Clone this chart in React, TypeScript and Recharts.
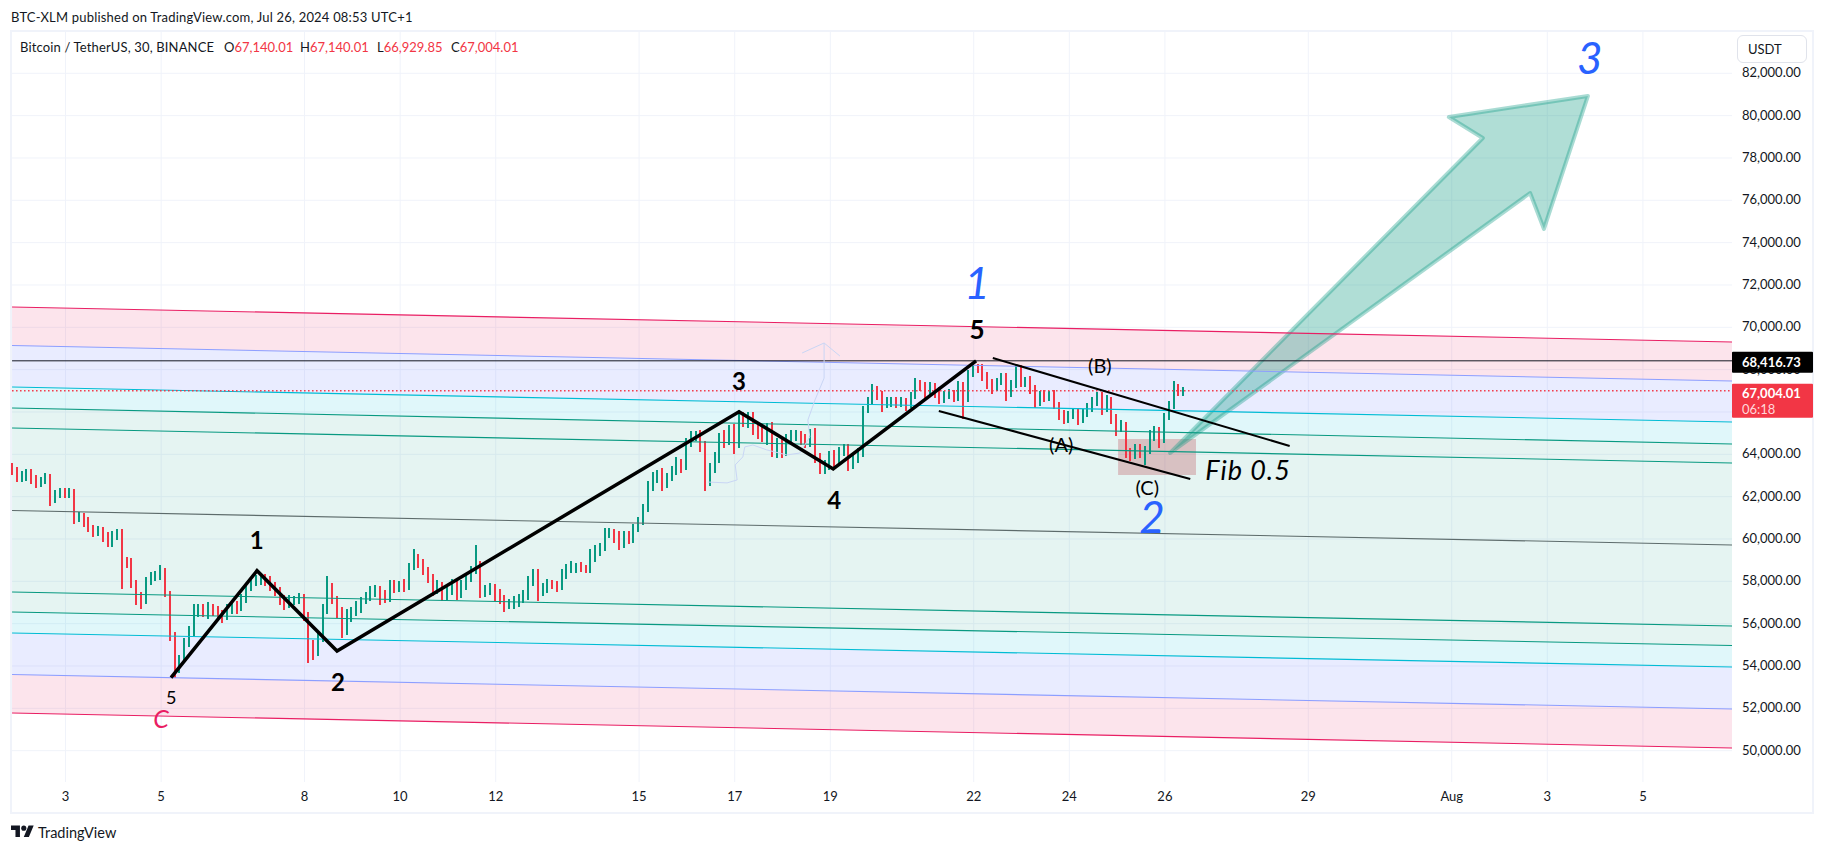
import {
  Area,
  Bar,
  CartesianGrid,
  ComposedChart,
  Line,
  ReferenceArea,
  ReferenceDot,
  XAxis,
  YAxis,
} from "recharts";

const FONT = "Lato, 'Open Sans', sans-serif";
const TEXT = "#131722";
const UP = "#089981";
const DOWN = "#f23645";
const BLUE = "#2962ff";

// x axis is in days counted from Jul 1, so Aug 1 is day 32
const DAY_MIN = 1.881;
const DAY_MAX = 37.864;
const PRICE_MIN = 48520;
const PRICE_MAX = 83951;

const dayTicks = [3, 5, 8, 10, 12, 15, 17, 19, 22, 24, 26, 29, 32, 34, 36];
const priceTicks = [
  50000, 52000, 54000, 56000, 58000, 60000, 62000, 64000, 66000, 68000, 70000,
  72000, 74000, 76000, 78000, 80000, 82000,
];
const HIGH_MARK = 68416.73;
const LAST_PRICE = 67004.01;

// candle closes, one every 0.1 day starting at firstCandleDay
const firstCandleDay = 1.88;
const candleStep = 0.1;
const firstOpen = 63400;
// every bar here stands for a few of the 30 min candles, so the wicks get some extra reach
const wickReach = 90;
const candleCloses = [
  63240, 62870, 63000, 63150, 62800, 62630, 62750, 62920, 61860, 62100,
  62240, 62150, 62190, 61000, 61060, 60800, 60500, 60300, 60430, 60100,
  59810, 60100, 60300, 59020, 58900, 57900, 57250, 57150, 58000, 58200,
  58300, 58460, 57400, 55420, 53900, 54300, 55100, 55700, 56600, 56650,
  56550, 56700, 56600, 56450, 56370, 56700, 56800, 56750, 57200, 57700,
  57950, 58050, 58150, 58000, 57800, 57500, 57200, 56900, 57100, 57150,
  57240, 56400, 55000, 54700, 55300, 56600, 57700, 57140, 56530, 55700,
  56400, 56600, 56800, 57100, 57300, 57450, 57600, 57250, 57200, 57800,
  57700, 57800, 57750, 58700, 59100, 58850, 58500, 58100, 57650, 57760,
  57350, 57550, 57850, 57450, 57800, 58150, 58500, 58800, 57500, 57600,
  57700, 57400, 57150, 56900, 56950, 57100, 57150, 57300, 58000, 58300,
  57500, 57700, 57850, 57800, 57760, 58300, 58600, 58650, 58700, 58620,
  58600, 59300, 59450, 59580, 60250, 60300, 60100, 59800, 60150, 60000,
  60500, 60850, 61450, 62500, 62900, 63050, 62600, 62900, 63250, 63600,
  63400, 64500, 64800, 64900, 64350, 62800, 63400, 63800, 64800, 64650,
  65150, 64500, 65800, 65500, 65750, 65250, 65000, 64800, 65250, 64100,
  64550, 64150, 64750, 64850, 64900, 64700, 64550, 65000, 63900, 63450,
  63500, 63950, 63700, 64100, 64280, 63550, 63800, 64050, 66100, 66500,
  67050, 66800, 66370, 66500, 66520, 66420, 66500, 66370, 66750, 67350,
  67200, 66900, 67200, 66950, 66660, 66800, 66850, 66700, 67200, 66600,
  67800, 68080, 68050, 67700, 67350, 67150, 67450, 67600, 66900, 67300,
  68050, 67400, 67450, 67100, 66500, 66800, 66700, 66800, 66300, 65900,
  65700, 65850, 65950, 65700, 65950, 66200, 66450, 66750, 66200, 66550,
  65700, 65250, 65380, 64100, 64000, 64280, 64100, 64200, 64900, 65050,
  64700, 65750, 66300, 67100, 66950, 67004,
];
const candleUpperWicks = [
  100, 80, 120, 90, 60, 150, 70, 110, 60, 140,
  100, 60, 130, 80, 120, 70, 160, 90, 110, 60,
  130, 180, 90, 70, 60, 120, 80, 140, 100, 160,
  110, 230, 60, 40, 100, 150, 120, 90, 260, 200,
  180, 240, 130, 160, 110, 150, 200, 170, 90, 140,
  110, 180, 70, 120, 150, 100, 130, 60, 170, 90,
  110, 70, 60, 130, 200, 220, 480, 130, 90, 160,
  200, 110, 180, 90, 120, 260, 130, 100, 240, 150,
  170, 130, 210, 60, 340, 90, 110, 70, 150, 200,
  120, 140, 180, 90, 150, 110, 130, 820, 90, 160,
  120, 80, 170, 110, 140, 100, 180, 220, 150, 170,
  190, 120, 160, 100, 130, 170, 110, 220, 90, 120,
  80, 140, 180, 120, 160, 110, 90, 200, 130, 150,
  120, 90, 110, 150, 170, 100, 200, 130, 90, 160,
  110, 190, 230, 120, 150, 180, 120, 210, 130, 240,
  160, 190, 210, 130, 170, 140, 110, 180, 120, 200,
  130, 150, 110, 190, 140, 100, 170, 120, 160, 90,
  130, 110, 180, 150, 100, 140, 120, 170, 90, 130,
  170, 110, 90, 140, 100, 120, 130, 80, 110, 150,
  90, 120, 150, 100, 130, 110, 140, 90, 180, 120,
  100, 120, 90, 150, 110, 130, 80, 140, 170, 100,
  130, 90, 110, 150, 80, 120, 140, 100, 170, 90,
  110, 130, 90, 140, 100, 120, 170, 110, 90, 150,
  80, 110, 130, 60, 90, 120, 110, 100, 140, 180,
  150, 120, 110, 270, 130, 90,
];
const candleLowerWicks = [
  120, 90, 70, 150, 100, 130, 80, 60, 210, 90,
  70, 130, 110, 180, 90, 150, 100, 120, 60, 140,
  90, 110, 70, 1300, 160, 120, 300, 350, 130, 90,
  110, 150, 60, 170, 400, 120, 90, 130, 180, 210,
  160, 220, 130, 180, 240, 100, 150, 190, 80, 120,
  90, 60, 130, 110, 160, 120, 230, 180, 90, 150,
  110, 200, 770, 310, 120, 90, 60, 110, 180, 280,
  130, 240, 160, 190, 100, 150, 120, 300, 140, 90,
  160, 110, 180, 70, 90, 130, 120, 100, 240, 170,
  210, 130, 90, 250, 140, 110, 90, 70, 200, 130,
  150, 240, 110, 260, 130, 180, 200, 90, 70, 120,
  340, 110, 140, 90, 170, 60, 80, 120, 150, 100,
  100, 130, 320, 160, 70, 110, 190, 240, 120, 150,
  90, 60, 80, 100, 130, 170, 220, 110, 90, 140,
  200, 60, 80, 100, 160, 450, 230, 180, 120, 250,
  140, 380, 90, 130, 160, 240, 170, 120, 280, 150,
  190, 220, 130, 90, 110, 150, 170, 100, 240, 300,
  280, 130, 190, 100, 90, 250, 160, 110, 80, 60,
  100, 130, 290, 110, 160, 120, 90, 250, 80, 60,
  110, 140, 90, 210, 180, 130, 100, 150, 90, 850,
  60, 80, 110, 130, 190, 200, 90, 70, 280, 120,
  60, 140, 110, 180, 230, 120, 150, 100, 90, 200,
  170, 130, 90, 220, 110, 80, 100, 60, 240, 130,
  200, 290, 120, 180, 230, 140, 190, 530, 100, 160,
  300, 90, 60, 70, 120, 90,
];

const candles = candleCloses.map((close, i) => {
  const open = i === 0 ? firstOpen : candleCloses[i - 1];
  const high = Math.max(open, close) + candleUpperWicks[i] + wickReach;
  const low = Math.min(open, close) - candleLowerWicks[i] - wickReach;
  return { day: firstCandleDay + i * candleStep, open, close, high, low, range: [low, high] };
});

// fib channel levels, price at the left and right edge of the chart
const redTop = [70960, 69307];
const blueTop = [69141, 67464];
const cyanTop = [67181, 65527];
const greenA = [66189, 64488];
const greenB = [65244, 63590];
const greyMid = [61347, 59717];
const greenC = [57497, 55890];
const greenD = [56552, 54969];
const cyanBottom = [55560, 53954];
const blueBottom = [53599, 51969];
const redBottom = [51781, 50127];

const channelLines = [
  { level: redTop, color: "#e91e63" },
  { level: blueTop, color: "#8c9eff" },
  { level: cyanTop, color: "#00bcd4" },
  { level: greenA, color: "#089981" },
  { level: greenB, color: "#089981" },
  { level: greyMid, color: "#5d6b6b" },
  { level: greenC, color: "#089981" },
  { level: greenD, color: "#089981" },
  { level: cyanBottom, color: "#00bcd4" },
  { level: blueBottom, color: "#8c9eff" },
  { level: redBottom, color: "#e91e63" },
];

const channelBands = [
  { from: redTop, to: blueTop, color: "#e91e63", opacity: 0.12 },
  { from: blueTop, to: cyanTop, color: "#536dfe", opacity: 0.13 },
  { from: cyanTop, to: greenA, color: "#00bcd4", opacity: 0.12 },
  { from: greenA, to: greenD, color: "#089981", opacity: 0.105 },
  { from: greenD, to: cyanBottom, color: "#00bcd4", opacity: 0.12 },
  { from: cyanBottom, to: blueBottom, color: "#536dfe", opacity: 0.13 },
  { from: blueBottom, to: redBottom, color: "#e91e63", opacity: 0.12 },
];

const edgePoints = (level: number[]) => [
  { day: DAY_MIN, price: level[0] },
  { day: DAY_MAX, price: level[1] },
];

// impulse wave
const waveDays = [5.207, 7.006, 8.68, 17.09, 19.06, 22.05];
const wavePrices = [53450, 58504, 54711, 66015, 63308, 68410];
const wavePoints = waveDays.map((day, i) => ({ day, price: wavePrices[i] }));

// thin trend lines of the correction
const upperTrend = [
  { day: 22.4, price: 68551 },
  { day: 28.61, price: 64394 },
];
const lowerTrend = [
  { day: 21.27, price: 66047 },
  { day: 26.53, price: 62835 },
];

const highLine = [
  { day: DAY_MIN, price: HIGH_MARK },
  { day: DAY_MAX, price: HIGH_MARK },
];
const lastLine = [
  { day: DAY_MIN, price: LAST_PRICE },
  { day: DAY_MAX, price: LAST_PRICE },
];

// pale hand drawn arrow near wave 3
const sketchDays = [18.87, 18.87, 18.68, 18.53, 18.57, 18.36, 18.09, 17.67, 17.38, 17.21, 17.17, 17.01, 17.05, 16.84, 16.44];
const sketchPrices = [69259, 67600, 66570, 65620, 64820, 64060, 63970, 64210, 64440, 64350, 63880, 63500, 62790, 62650, 62690];
const sketchPoints = sketchDays.map((day, i) => ({ day, price: sketchPrices[i] }));
const sketchHead = [
  { day: 18.41, price: 68787 },
  { day: 18.87, price: 69259 },
  { day: 19.2, price: 68645 },
];

// projection arrow outline
const arrowDays = [26.11, 32.65, 31.94, 34.85, 33.93, 33.64];
const arrowPrices = [64063, 78944, 79936, 80928, 74645, 76345];

const annotations = [
  { text: "1", day: 22.07, price: 72094, size: 44, color: BLUE, italic: true },
  { text: "5", day: 22.07, price: 69873, size: 26, color: "#000000", bold: true },
  { text: "3", day: 17.09, price: 67464, size: 24, color: "#000000", bold: true },
  { text: "4", day: 19.08, price: 61796, size: 24, color: "#000000", bold: true },
  { text: "1", day: 7.0, price: 59953, size: 24, color: "#000000", bold: true },
  { text: "2", day: 8.7, price: 53198, size: 24, color: "#000000", bold: true },
  { text: "5", day: 5.21, price: 52489, size: 18, color: "#000000" },
  { text: "C", day: 5.0, price: 51497, size: 25, color: "#e91e63", italic: true },
  { text: "(B)", day: 24.64, price: 68173, size: 20, color: "#000000" },
  { text: "(A)", day: 23.83, price: 64441, size: 20, color: "#000000" },
  { text: "(C)", day: 25.63, price: 62410, size: 20, color: "#000000" },
  { text: "2", day: 25.73, price: 61040, size: 44, color: BLUE, italic: true },
  { text: "3", day: 34.89, price: 82723, size: 44, color: BLUE, italic: true },
  { text: "Fib 0.5", day: 27.74, price: 63260, size: 27, color: "#000000", italic: true, spacing: 1 },
];

const CandleShape = (props: any) => {
  const { x, y, width, height, payload } = props;
  if (!payload || !height) return null;
  const perUnit = height / (payload.high - payload.low);
  const top = y + (payload.high - Math.max(payload.open, payload.close)) * perUnit;
  const bodyHeight = Math.max(Math.abs(payload.open - payload.close) * perUnit, 2.5);
  const color = payload.close >= payload.open ? UP : DOWN;
  return (
    <g shapeRendering="crispEdges">
      <rect x={x + width / 2 - 1} y={y} width={2} height={height} fill={color} />
      <rect x={x} y={top} width={width} height={bodyHeight} fill={color} />
    </g>
  );
};

const ArrowShape = (props: any) => {
  const { x, y, width, height } = props;
  const minDay = Math.min(...arrowDays);
  const maxDay = Math.max(...arrowDays);
  const minPrice = Math.min(...arrowPrices);
  const maxPrice = Math.max(...arrowPrices);
  const points = arrowDays
    .map((d, i) => {
      const px = x + ((d - minDay) / (maxDay - minDay)) * width;
      const py = y + ((maxPrice - arrowPrices[i]) / (maxPrice - minPrice)) * height;
      return `${px},${py}`;
    })
    .join(" ");
  return (
    <polygon
      points={points}
      fill="#089981"
      fillOpacity={0.32}
      stroke="#089981"
      strokeOpacity={0.35}
      strokeWidth={4}
      strokeLinejoin="round"
    />
  );
};

const PriceTick = (props: any) => {
  const { x, y, payload } = props;
  const value = payload.value;
  // the red last price box covers this label completely
  if (value === 66000) return null;
  const label = value.toLocaleString("en-US", { minimumFractionDigits: 2, maximumFractionDigits: 2 });
  if (value === HIGH_MARK) {
    return (
      <g>
        <rect x={x} y={y - 9} width={81} height={21} rx={1} fill="#000000" />
        <text x={x + 10} y={y + 1} fill="#ffffff" fontSize={13} fontWeight={700} fontFamily={FONT} dominantBaseline="central">
          {label}
        </text>
      </g>
    );
  }
  if (value === LAST_PRICE) {
    return (
      <g>
        <rect x={x} y={y - 7} width={81} height={34} rx={1} fill={DOWN} />
        <text x={x + 10} y={y + 2} fill="#ffffff" fontSize={13} fontWeight={700} fontFamily={FONT} dominantBaseline="central">
          {label}
        </text>
        <text x={x + 10} y={y + 18} fill="#ffd6da" fontSize={13} fontFamily={FONT} dominantBaseline="central">
          06:18
        </text>
      </g>
    );
  }
  return (
    <text x={x + 10} y={y - 1} fill={TEXT} fontSize={13} fontFamily={FONT} dominantBaseline="central">
      {label}
    </text>
  );
};

const legendStyle = { position: "absolute" as const, top: 38, fontSize: 13, lineHeight: "18px", whiteSpace: "pre" as const };

export default function App() {
  return (
    <div
      style={{
        position: "absolute",
        left: 0,
        top: 0,
        width: 1824,
        height: 852,
        background: "#ffffff",
        fontFamily: FONT,
        color: TEXT,
        overflow: "hidden",
      }}
    >
      <div style={{ position: "absolute", left: 11, top: 8, fontSize: 13, lineHeight: "18px", letterSpacing: 0.2, whiteSpace: "pre" }}>
        BTC-XLM published on TradingView.com, Jul 26, 2024 08:53 UTC+1
      </div>
      <div
        style={{
          position: "absolute",
          left: 10,
          top: 30,
          width: 1800,
          height: 780,
          border: "2px solid #f0f3fa",
        }}
      />
      <ComposedChart
        width={1824}
        height={852}
        data={candles}
        margin={{ top: 32, left: 12, right: 11, bottom: 40 }}
        style={{ position: "absolute", left: 0, top: 0 }}
      >
        <CartesianGrid stroke="#f0f3fa" horizontalValues={priceTicks} verticalValues={dayTicks} />
        <XAxis
          dataKey="day"
          type="number"
          domain={[DAY_MIN, DAY_MAX]}
          ticks={dayTicks}
          interval={0}
          height={30}
          axisLine={false}
          tickLine={false}
          tickMargin={4}
          tick={{ fill: TEXT, fontSize: 13, fontFamily: FONT }}
          tickFormatter={(d: number) => (d === 32 ? "Aug" : String(d > 32 ? d - 31 : d))}
        />
        <YAxis
          orientation="right"
          type="number"
          domain={[PRICE_MIN, PRICE_MAX]}
          ticks={[...priceTicks, HIGH_MARK, LAST_PRICE]}
          interval={0}
          width={81}
          axisLine={false}
          tickLine={false}
          tickSize={0}
          tickMargin={0}
          tick={PriceTick}
        />

        {channelBands.map((band, i) => (
          <Area
            key={`band-${i}`}
            data={[
              { day: DAY_MIN, range: [band.to[0], band.from[0]] },
              { day: DAY_MAX, range: [band.to[1], band.from[1]] },
            ]}
            dataKey="range"
            type="linear"
            fill={band.color}
            fillOpacity={band.opacity}
            stroke="none"
            dot={false}
            activeDot={false}
            isAnimationActive={false}
          />
        ))}
        {channelLines.map((line, i) => (
          <Line
            key={`level-${i}`}
            data={edgePoints(line.level)}
            dataKey="price"
            type="linear"
            stroke={line.color}
            strokeWidth={1.1}
            dot={false}
            activeDot={false}
            isAnimationActive={false}
          />
        ))}
        <Line data={highLine} dataKey="price" type="linear" stroke={TEXT} strokeWidth={1} dot={false} activeDot={false} isAnimationActive={false} />
        <Line data={lastLine} dataKey="price" type="linear" stroke={DOWN} strokeWidth={1.5} strokeDasharray="1.5 2.5" dot={false} activeDot={false} isAnimationActive={false} />
        <Line data={sketchPoints} dataKey="price" type="linear" stroke="#c9d6f5" strokeWidth={1} dot={false} activeDot={false} isAnimationActive={false} />
        <Line data={sketchHead} dataKey="price" type="linear" stroke="#c9d6f5" strokeWidth={1} dot={false} activeDot={false} isAnimationActive={false} />

        <ReferenceArea x1={25.02} x2={26.65} y1={63024} y2={64724} fill="#b22833" fillOpacity={0.25} stroke="none" />
        <Bar dataKey="range" barSize={4} shape={CandleShape} isAnimationActive={false} />

        <Line data={upperTrend} dataKey="price" type="linear" stroke="#000000" strokeWidth={2} dot={false} activeDot={false} isAnimationActive={false} />
        <Line data={lowerTrend} dataKey="price" type="linear" stroke="#000000" strokeWidth={2} dot={false} activeDot={false} isAnimationActive={false} />
        <Line data={wavePoints} dataKey="price" type="linear" stroke="#000000" strokeWidth={3.5} dot={false} activeDot={false} isAnimationActive={false} />
        <ReferenceArea
          x1={Math.min(...arrowDays)}
          x2={Math.max(...arrowDays)}
          y1={Math.min(...arrowPrices)}
          y2={Math.max(...arrowPrices)}
          shape={ArrowShape}
        />

        {annotations.map((note, i) => (
          <ReferenceDot
            key={`note-${i}`}
            x={note.day}
            y={note.price}
            r={0}
            fill="none"
            stroke="none"
            label={{
              value: note.text,
              position: "center",
              fill: note.color,
              fontSize: note.size,
              fontWeight: note.bold ? 700 : 400,
              fontStyle: note.italic ? "italic" : "normal",
              letterSpacing: note.spacing ?? 0,
              fontFamily: FONT,
            }}
          />
        ))}
      </ComposedChart>

      <div style={{ ...legendStyle, left: 20, letterSpacing: 0.15 }}>Bitcoin / TetherUS, 30, BINANCE</div>
      <div style={{ ...legendStyle, left: 224 }}>O<span style={{ color: DOWN }}>67,140.01</span></div>
      <div style={{ ...legendStyle, left: 300 }}>H<span style={{ color: DOWN }}>67,140.01</span></div>
      <div style={{ ...legendStyle, left: 377 }}>L<span style={{ color: DOWN }}>66,929.85</span></div>
      <div style={{ ...legendStyle, left: 451 }}>C<span style={{ color: DOWN }}>67,004.01</span></div>

      <div
        style={{
          position: "absolute",
          left: 1737,
          top: 35,
          width: 58,
          height: 26,
          paddingLeft: 10,
          border: "1px solid #e0e3eb",
          borderRadius: 6,
          background: "#ffffff",
          fontSize: 13,
          lineHeight: "26px",
        }}
      >
        USDT
      </div>

      <svg style={{ position: "absolute", left: 11, top: 823 }} width={23} height={18} viewBox="0 0 36 28">
        <path d="M14 22H7V11H0V4h14v18zM28 22h-8l7.5-18h8L28 22z" fill="#131722" />
        <circle cx={20} cy={8} r={4} fill="#131722" />
      </svg>
      <div style={{ position: "absolute", left: 38, top: 823, fontSize: 14.5, lineHeight: "20px" }}>TradingView</div>
    </div>
  );
}
